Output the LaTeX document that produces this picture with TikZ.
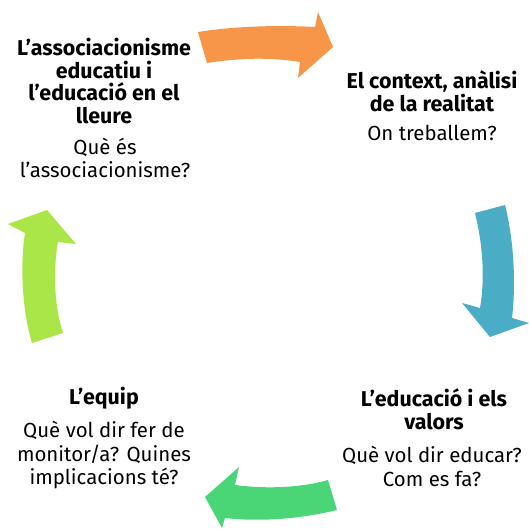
\documentclass[tikz,border=0pt]{standalone}
\usepackage{fontspec}
\setmainfont{Fira Sans}
\definecolor{corange}{RGB}{247,150,72}
\definecolor{cblue}{RGB}{75,172,198}
\definecolor{cgreen}{RGB}{74,214,118}
\definecolor{clime}{RGB}{170,230,72}
\begin{document}
\begin{tikzpicture}[x=1bp,y=-1bp,
  title/.style={align=center,font=\fontsize{21.5}{23}\selectfont\bfseries,inner sep=0pt},
  question/.style={align=center,font=\fontsize{20.5}{23.5}\selectfont,inner sep=0pt}]
\useasboundingbox (0,0) rectangle (529,529);
% arrows
\fill[corange] (198,32) .. controls (235,26) and (280,25) .. (315,27)
  -- (318,12) -- (333,47) -- (298,78) -- (300,62)
  .. controls (270,57) and (240,58) .. (207,63) -- cycle;
\fill[cblue] (475,213) -- (505,205) .. controls (514,240) and (516,285) .. (512,318)
  -- (529,323) -- (490,337) -- (462,303) -- (480,308)
  .. controls (485,280) and (483,245) .. (475,213) -- cycle;
\fill[cgreen] (328,480) .. controls (300,488) and (265,489) .. (235,485)
  -- (239,467) -- (205,497) -- (222,528) -- (225,518)
  .. controls (260,522) and (300,519) .. (337,510) -- cycle;
\fill[clime] (32,343) -- (63,333) .. controls (54,305) and (53,270) .. (58,242)
  -- (76,244) -- (47,210) -- (8,224) -- (25,233)
  .. controls (20,265) and (22,310) .. (32,343) -- cycle;
% texts
\node[title] (t1) at (104,81) {L’associacionisme\\educatiu i\\l’educació en el\\lleure};
\node[question] (q1) at (105,158) {Què és\\l’associacionisme?};
\node[title] (t2) at (432,91.5) {El context, anàlisi\\de la realitat};
\node[question] (q2) at (432,133) {On treballem?};
\node[title] (t3) at (434,409.5) {L’educació i els\\valors};
\node[question] (q3) at (432,466.5) {Què vol dir educar?\\Com es fa?};
\node[title] (t4) at (104,398) {L’equip};
\node[question] (q4) at (104,455) {Què vol dir fer de\\monitor/a? Quines\\implicacions té?};
\end{tikzpicture}
\end{document}
